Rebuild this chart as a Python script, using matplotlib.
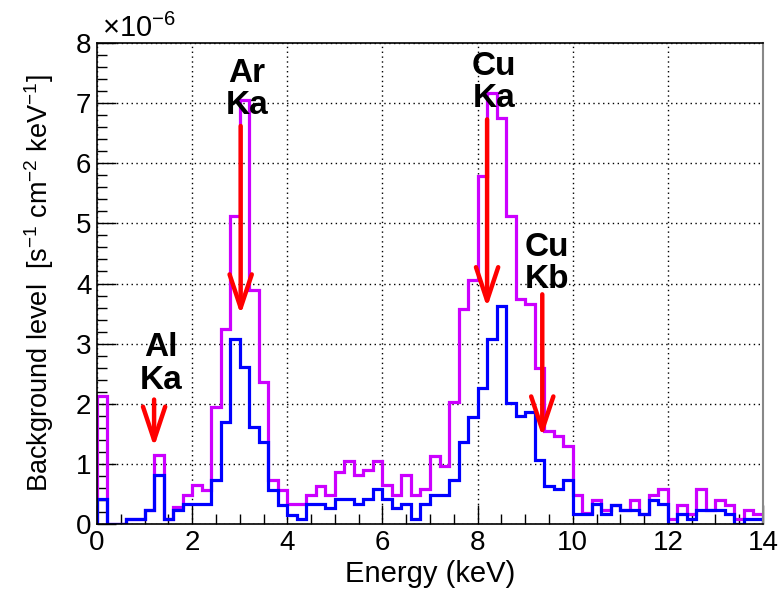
import numpy as np
import matplotlib
matplotlib.use("Agg")
import matplotlib.pyplot as plt
from matplotlib.ticker import MultipleLocator

plt.rcParams['font.family'] = ['Liberation Sans', 'DejaVu Sans']
plt.rcParams['mathtext.fontset'] = 'custom'
plt.rcParams['mathtext.rm'] = 'Liberation Sans'
plt.rcParams['mathtext.it'] = 'Liberation Sans'
plt.rcParams['mathtext.bf'] = 'Liberation Sans:bold'

# bin edges (keV)
bin_edges = np.round(np.arange(0, 14.0001, 0.2), 2)

# magenta histogram (x1e-6)
magenta_vals = [2.13, 0.0, 0.0, 0.08, 0.08, 0.24, 1.14, 0.08, 0.29, 0.49,
                0.65, 0.57, 1.95, 3.25, 5.12, 7.05, 3.90, 2.36, 0.74, 0.57,
                0.33, 0.33, 0.49, 0.63, 0.48, 0.87, 1.05, 0.82, 0.90, 1.05,
                0.65, 0.48, 0.81, 0.48, 0.58, 1.13, 0.97, 2.03, 3.58, 4.06,
                5.78, 7.17, 6.75, 5.12, 3.74, 3.66, 2.60, 1.54, 1.46, 1.29,
                0.48, 0.18, 0.40, 0.24, 0.32, 0.24, 0.40, 0.16, 0.48, 0.58,
                0.08, 0.32, 0.16, 0.58, 0.24, 0.40, 0.32, 0.08, 0.24, 0.16]

# blue histogram (x1e-6)
blue_vals = [0.41, 0.0, 0.0, 0.08, 0.08, 0.24, 0.81, 0.08, 0.24, 0.33,
             0.33, 0.33, 0.73, 1.70, 3.08, 2.61, 1.62, 1.37, 0.57, 0.32,
             0.15, 0.08, 0.33, 0.33, 0.26, 0.41, 0.41, 0.33, 0.41, 0.58,
             0.41, 0.26, 0.33, 0.08, 0.33, 0.49, 0.49, 0.74, 1.37, 1.78,
             2.26, 3.08, 3.63, 2.02, 1.80, 1.87, 1.07, 0.63, 0.58, 0.73,
             0.17, 0.16, 0.33, 0.16, 0.32, 0.24, 0.24, 0.16, 0.40, 0.33,
             0.0, 0.16, 0.08, 0.24, 0.24, 0.24, 0.16, 0.0, 0.08, 0.08]

# line annotations: label, text x, text y, arrow x, arrow start y, arrow tip y
line_labels = ["Al\nKa", "Ar\nKa", "Cu\nKa", "Cu\nKb"]
label_x = [1.35, 3.15, 8.34, 9.45]
label_y = [2.66, 7.22, 7.34, 4.33]
arrow_x = [1.20, 3.02, 8.20, 9.36]
arrow_y0 = [2.07, 6.62, 6.73, 3.82]
arrow_y1 = [1.28, 3.48, 3.60, 1.45]

fig = plt.figure(figsize=(7.79, 5.91), dpi=100)
ax = fig.add_axes([97/779, 1-524/591, (763-97)/779, (524-43)/591])

ax.stairs(magenta_vals, bin_edges, color='#cc00ff', lw=2.3, baseline=0)
ax.stairs(blue_vals, bin_edges, color='#0000ff', lw=2.3, baseline=0)

for lab, tx, ty, axx, y0, y1 in zip(line_labels, label_x, label_y, arrow_x, arrow_y0, arrow_y1):
    ax.text(tx, ty, lab, ha='center', va='center', fontsize=24, fontweight='bold',
            linespacing=1.05, color='black', zorder=5)
    ax.annotate('', xy=(axx, y1), xytext=(axx, y0),
                arrowprops=dict(arrowstyle='->,head_length=1.2,head_width=0.4',
                                lw=3.2, color='#ff0000', shrinkA=0, shrinkB=0,
                                mutation_scale=20), zorder=6)

ax.set_xlim(0, 14)
ax.set_ylim(0, 8)
ax.xaxis.set_major_locator(MultipleLocator(2))
ax.xaxis.set_minor_locator(MultipleLocator(0.5))
ax.yaxis.set_major_locator(MultipleLocator(1))
ax.yaxis.set_minor_locator(MultipleLocator(0.2))
ax.tick_params(which='both', direction='in', top=False, right=False,
               labelsize=20, color='black', width=1)
ax.tick_params(which='major', length=14, pad=4)
ax.tick_params(which='minor', length=7)
ax.grid(True, which='major', color='black', linestyle=(0, (1, 2.5)), lw=1.0)
ax.set_axisbelow(True)
for s in ['left', 'bottom', 'top']:
    ax.spines[s].set_color('black')
    ax.spines[s].set_linewidth(1.2)
ax.spines['right'].set_color('#888888')
ax.spines['right'].set_linewidth(1.5)

ax.set_xlabel('Energy (keV)', fontsize=21, labelpad=3)
ax.set_ylabel(r'Background level  [s$^{-1}$ cm$^{-2}$ keV$^{-1}$]', fontsize=19.5, labelpad=14)

ax.text(0.008, 1.0, r'$\times$10$^{-6}$', transform=ax.transAxes, fontsize=21,
        ha='left', va='bottom')

fig.savefig('out.png', dpi=100)
